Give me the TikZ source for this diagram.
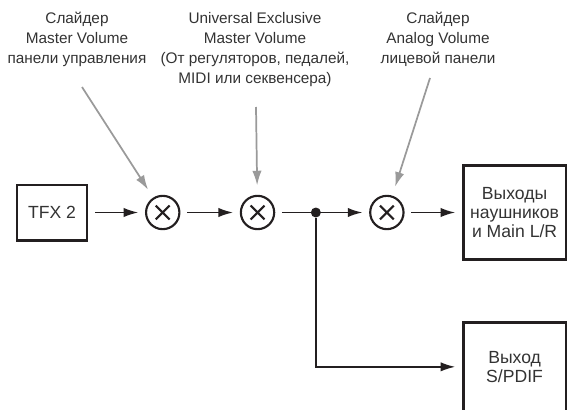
\documentclass[tikz,border=0pt]{standalone}
\usepackage{fontspec}
\setmainfont{Liberation Sans}
\usepackage{xcolor}
\usetikzlibrary{arrows,positioning}
\usetikzlibrary{arrows.meta}
\definecolor{inkgray}{HTML}{231F20}
\definecolor{ctrlgray}{HTML}{9A9A9A}
\definecolor{textgray}{HTML}{333333}

\begin{document}
\begin{tikzpicture}[x=0.75pt,y=-0.75pt,auto,>={Latex[length=11pt,width=7pt]},every node/.append style={align=center,font=\fontsize{11.5}{15}\selectfont,text=textgray},int/.style={draw=inkgray, line width=2pt, inner sep=0pt, font=\fontsize{13.2}{14.6}\selectfont},
  mult/.style={circle, draw=inkgray, line width=1.6pt, minimum size=25pt, inner sep=0pt, path picture={\draw[inkgray, line width=1.6pt] ([shift={(-5.2pt,-5.2pt)}]path picture bounding box.center) -- ++(10.4pt,10.4pt) ([shift={(-5.2pt,5.2pt)}]path picture bounding box.center) -- ++(10.4pt,-10.4pt);}},
  junc/.style={circle, fill=inkgray, minimum size=7.5pt, inner sep=0pt},
  wire/.style={color=inkgray, line width=1.3pt, shorten <=5pt},
  sig/.style={->, color=inkgray, line width=1.3pt, shorten <=5pt, shorten >=5pt},
  ctrl/.style={->, color=ctrlgray, line width=1.3pt, shorten >=7pt},
  sliderlabel/.style={anchor=north, inner sep=0pt}]
    \useasboundingbox (0,0) rectangle (567,410);
    \node [int, minimum width=52.5pt, minimum height=41.5pt] (TFX) at (52,212.5) {TFX 2};
    \node [mult, right=42.5pt of TFX] (M1) {};
    \node [mult, right=44.5pt of M1] (M2) {};
    \node [junc, right=26.5pt of M2] (J) {};
    \node [mult, right=36pt of J] (M3) {};
    \node [int, right=43pt of M3, minimum width=77pt, minimum height=70.5pt] (Out1) {Выходы\\наушников\\и Main L/R};
    \node [int, below=45pt of Out1, minimum width=77pt, minimum height=67pt] (Out2) {Выход\\S/PDIF};
    % labels of the volume controls
    \node [sliderlabel] (labA) at (77,12) {Слайдер\\Master Volume\\панели управления};
    \node [sliderlabel] (labB) at (255,12) {Universal Exclusive\\Master Volume\\(От регуляторов, педалей,\\MIDI или секвенсера)};
    \node [sliderlabel] (labC) at (438,12) {Слайдер\\Analog Volume\\лицевой панели};
    \coordinate (sA) at (82,87);
    \coordinate (sB) at (256,107);
    \coordinate (sC) at (430,78);
    \path[ctrl] (sA) edge (M1);
    \path[ctrl] (sB) edge (M2);
    \path[ctrl] (sC) edge (M3);
    % signal chain
    \path[sig] (TFX) edge (M1);
    \path[sig] (M1) edge (M2);
    \path[wire] (M2) edge (J);
    \path[sig, shorten <=0pt] (J) edge (M3);
    \path[sig] (M3) edge (Out1);
    \draw[sig, shorten <=0pt] (J) |- (Out2);
\end{tikzpicture}
\end{document}
